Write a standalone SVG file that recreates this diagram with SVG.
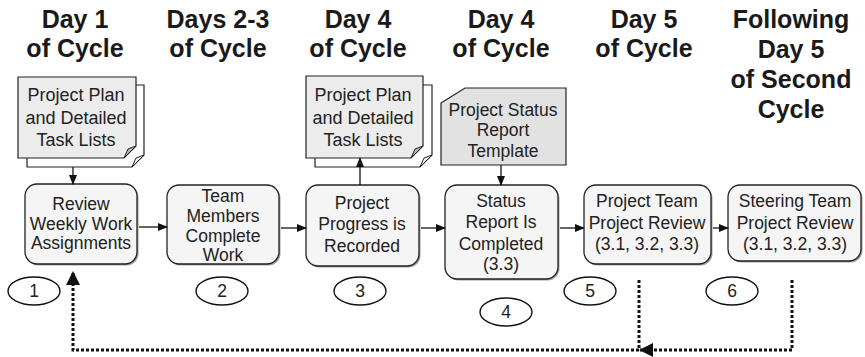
<svg xmlns="http://www.w3.org/2000/svg" width="865" height="357" viewBox="0 0 865 357">
<defs>
<marker id="ah" markerWidth="10" markerHeight="8" refX="9" refY="4" orient="auto" markerUnits="userSpaceOnUse"><path d="M0,0 L10,4 L0,8 Z" fill="#111"/></marker>
<marker id="ahb" markerWidth="14" markerHeight="14" refX="13" refY="7" orient="auto" markerUnits="userSpaceOnUse"><path d="M0,0 L14,7 L0,14 Z" fill="#111"/></marker>
</defs>
<style>
.hd{font-family:"Liberation Sans",Arial,sans-serif;font-weight:bold;font-size:25px;fill:#1a1a1a;text-anchor:middle}
.t{font-family:"Liberation Sans",Arial,sans-serif;font-size:17.5px;fill:#222;text-anchor:middle}
.d{font-size:18px}
.box{fill:#f5f5f5;stroke:#222;stroke-width:1.3}
.sh{fill:#a0a0a0}
.pg{fill:#ececec;stroke:#222;stroke-width:1.2}
.bk{fill:#fff;stroke:#222;stroke-width:1.2}
.curl{fill:#b5b5b5;stroke:#222;stroke-width:1}
.curlw{fill:#fff;stroke:#222;stroke-width:1}
.el{fill:#fff;stroke:#111;stroke-width:1.4}
.ln{fill:none;stroke:#111;stroke-width:1.3}
.dot{fill:none;stroke:#111;stroke-width:3;stroke-dasharray:3 2}
</style>
<g id="headers">
<text class="hd" x="75" y="28">Day 1</text><text class="hd" x="75" y="57">of Cycle</text>
<text class="hd" x="218" y="28">Days 2-3</text><text class="hd" x="218" y="57">of Cycle</text>
<text class="hd" x="358" y="28">Day 4</text><text class="hd" x="358" y="57">of Cycle</text>
<text class="hd" x="501" y="28">Day 4</text><text class="hd" x="501" y="57">of Cycle</text>
<text class="hd" x="644" y="28">Day 5</text><text class="hd" x="644" y="57">of Cycle</text>
<text class="hd" x="791" y="28">Following</text><text class="hd" x="791" y="58">Day 5</text><text class="hd" x="791" y="88">of Second</text><text class="hd" x="791" y="118">Cycle</text>
</g>
<g id="doc1">
<path class="bk" d="M27,158 V167 H132 L144,155 V85 H136"/>
<path class="curlw" d="M132,167 L144,155 L136,158 Z"/>
<path class="pg" d="M18,77 H136 V146 L124,158 H18 Z"/>
<path class="curl" d="M124,158 L136,146 L128,149 Z"/>
<text class="t d" x="76" y="101">Project Plan</text>
<text class="t d" x="76" y="124">and Detailed</text>
<text class="t d" x="76" y="146">Task Lists</text>
</g>
<g id="doc2">
<path class="bk" d="M315,158 V167 H420 L432,155 V85 H423"/>
<path class="curlw" d="M420,167 L432,155 L424,158 Z"/>
<path class="pg" d="M306,76 H423 V146 L411,158 H306 Z"/>
<path class="curl" d="M411,158 L423,146 L415,149 Z"/>
<text class="t d" x="363" y="101">Project Plan</text>
<text class="t d" x="363" y="124">and Detailed</text>
<text class="t d" x="363" y="146">Task Lists</text>
</g>
<g id="template">
<path class="pg" style="fill:#e2e2e2" d="M441,103 L465,88 H566 V165 H441 Z"/>
<text class="t" x="503" y="116">Project Status</text>
<text class="t" x="503" y="136">Report</text>
<text class="t" x="503" y="157">Template</text>
</g>
<g id="n1">
<rect class="sh" x="26.5" y="185.5" width="112" height="80" rx="12"/>
<rect class="box" x="25" y="184" width="112" height="80" rx="12"/>
<text class="t" x="81" y="210">Review</text>
<text class="t" x="81" y="230">Weekly Work</text>
<text class="t" x="81" y="249">Assignments</text>
</g>
<g id="n2">
<rect class="sh" x="168.5" y="186.5" width="112" height="79" rx="12"/>
<rect class="box" x="167" y="185" width="112" height="79" rx="12"/>
<text class="t" x="223" y="202">Team</text>
<text class="t" x="223" y="222">Members</text>
<text class="t" x="223" y="242">Complete</text>
<text class="t" x="223" y="261">Work</text>
</g>
<g id="n3">
<rect class="sh" x="307.5" y="186.5" width="113" height="81" rx="12"/>
<rect class="box" x="306" y="185" width="113" height="81" rx="12"/>
<text class="t" x="362" y="209">Project</text>
<text class="t" x="362" y="230">Progress is</text>
<text class="t" x="362" y="252">Recorded</text>
</g>
<g id="n4">
<rect class="sh" x="446.5" y="186.5" width="113" height="94" rx="12"/>
<rect class="box" x="445" y="185" width="113" height="94" rx="12"/>
<text class="t" x="501" y="207">Status</text>
<text class="t" x="501" y="228">Report Is</text>
<text class="t" x="501" y="250">Completed</text>
<text class="t" x="501" y="270">(3.3)</text>
</g>
<g id="n5">
<rect class="sh" x="585.5" y="186.5" width="127" height="79" rx="12"/>
<rect class="box" x="584" y="185" width="127" height="79" rx="12"/>
<text class="t" x="647" y="207">Project Team</text>
<text class="t" x="647" y="229">Project Review</text>
<text class="t" x="647" y="250">(3.1, 3.2, 3.3)</text>
</g>
<g id="n6">
<rect class="sh" x="729.5" y="186.5" width="133" height="76" rx="12"/>
<rect class="box" x="728" y="185" width="133" height="76" rx="12"/>
<text class="t" x="795" y="207">Steering Team</text>
<text class="t" x="795" y="229">Project Review</text>
<text class="t" x="795" y="250">(3.1, 3.2, 3.3)</text>
</g>
<g id="labels">
<ellipse class="el" cx="34" cy="291" rx="26" ry="14"/><text class="t" x="34" y="297">1</text>
<ellipse class="el" cx="222" cy="291" rx="26" ry="14"/><text class="t" x="222" y="297">2</text>
<ellipse class="el" cx="360" cy="291" rx="26" ry="14"/><text class="t" x="360" y="297">3</text>
<ellipse class="el" cx="506" cy="312" rx="26" ry="14"/><text class="t" x="506" y="318">4</text>
<ellipse class="el" cx="590" cy="291" rx="26" ry="14"/><text class="t" x="590" y="297">5</text>
<ellipse class="el" cx="732" cy="291" rx="26" ry="14"/><text class="t" x="732" y="297">6</text>
</g>
<g id="connectors">
<line class="ln" x1="73" y1="167" x2="73" y2="184" marker-end="url(#ah)"/>
<line class="ln" x1="360" y1="185" x2="360" y2="158" marker-end="url(#ah)"/>
<line class="ln" x1="501" y1="165" x2="501" y2="185" marker-end="url(#ah)"/>
<line class="ln" x1="139" y1="227" x2="167" y2="227" marker-end="url(#ah)"/>
<line class="ln" x1="281" y1="228" x2="306" y2="228" marker-end="url(#ah)"/>
<line class="ln" x1="421" y1="228" x2="445" y2="228" marker-end="url(#ah)"/>
<line class="ln" x1="560" y1="228" x2="584" y2="228" marker-end="url(#ah)"/>
<line class="ln" x1="713" y1="228" x2="728" y2="228" marker-end="url(#ah)"/>
<path class="dot" d="M792,280 V350 H640" marker-end="url(#ahb)"/>
<path class="dot" d="M639,280 V350 H73 V272" marker-end="url(#ahb)"/>
</g>
</svg>
